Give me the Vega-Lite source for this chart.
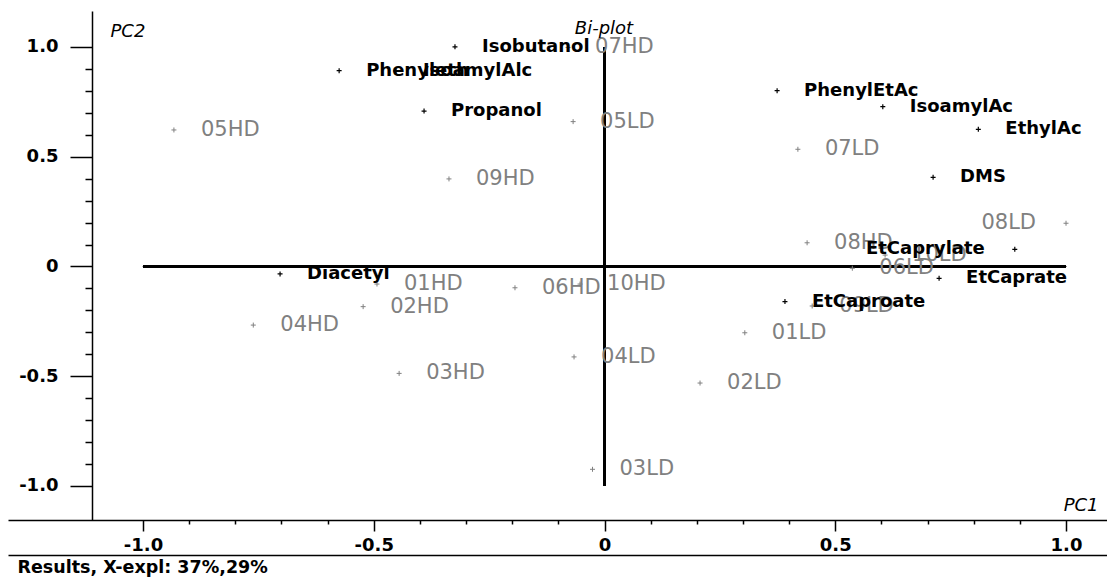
{
  "$schema": "https://vega.github.io/schema/vega-lite/v6.json",
  "width": 1099,
  "height": 509,
  "autosize": {"type": "none"},
  "padding": {"left": 8, "top": 11, "right": 0, "bottom": 60},
  "background": "white",
  "title": {"text": "Bi-plot", "anchor": "middle", "frame": "group", "orient": "top", "offset": -41, "baseline": "alphabetic", "dx": 46.5, "font": "DejaVu Sans", "fontStyle": "italic", "fontWeight": "normal", "fontSize": 18, "color": "black"},
  "config": {"view": {"stroke": null}, "axis": {"grid": false}},
  "datasets": {
    "points": [
      {"label": "Isobutanol", "type": "variable", "x": -0.324, "y": 1.001},
      {"label": "Phenyleth", "type": "variable", "x": -0.575, "y": 0.892},
      {"label": "IsoamylAlc", "type": "variable", "x": -0.452, "y": 0.891},
      {"label": "Propanol", "type": "variable", "x": -0.391, "y": 0.708},
      {"label": "PhenylEtAc", "type": "variable", "x": 0.374, "y": 0.801},
      {"label": "IsoamylAc", "type": "variable", "x": 0.603, "y": 0.728},
      {"label": "EthylAc", "type": "variable", "x": 0.81, "y": 0.625},
      {"label": "DMS", "type": "variable", "x": 0.712, "y": 0.406},
      {"label": "EtCaprylate", "type": "variable", "x": 0.889, "y": 0.078},
      {"label": "EtCaprate", "type": "variable", "x": 0.725, "y": -0.054},
      {"label": "EtCaproate", "type": "variable", "x": 0.391, "y": -0.16},
      {"label": "Diacetyl", "type": "variable", "x": -0.703, "y": -0.034},
      {"label": "05HD", "type": "sample", "x": -0.933, "y": 0.622},
      {"label": "07HD", "type": "sample", "x": -0.079, "y": 0.998},
      {"label": "05LD", "type": "sample", "x": -0.068, "y": 0.66},
      {"label": "09HD", "type": "sample", "x": -0.337, "y": 0.399},
      {"label": "07LD", "type": "sample", "x": 0.419, "y": 0.534},
      {"label": "08LD", "type": "sample", "x": 1.0, "y": 0.197},
      {"label": "08HD", "type": "sample", "x": 0.439, "y": 0.108},
      {"label": "06LD", "type": "sample", "x": 0.537, "y": -0.008},
      {"label": "10LD", "type": "sample", "x": 0.608, "y": 0.052},
      {"label": "09LD", "type": "sample", "x": 0.45, "y": -0.18},
      {"label": "01HD", "type": "sample", "x": -0.493, "y": -0.08},
      {"label": "02HD", "type": "sample", "x": -0.523, "y": -0.183},
      {"label": "04HD", "type": "sample", "x": -0.761, "y": -0.267},
      {"label": "06HD", "type": "sample", "x": -0.194, "y": -0.097},
      {"label": "10HD", "type": "sample", "x": -0.053, "y": -0.08},
      {"label": "03HD", "type": "sample", "x": -0.445, "y": -0.487},
      {"label": "04LD", "type": "sample", "x": -0.066, "y": -0.412},
      {"label": "01LD", "type": "sample", "x": 0.304, "y": -0.302},
      {"label": "02LD", "type": "sample", "x": 0.207, "y": -0.531},
      {"label": "03LD", "type": "sample", "x": -0.026, "y": -0.924}
    ]
  },
  "data": {"name": "points"},
  "layer": [
    {
      "mark": {"type": "rule", "color": "black", "strokeWidth": 1.5},
      "encoding": {
        "x": {"datum": -1, "type": "quantitative", "scale": {"domain": [-1.2925, 1.0888], "nice": false, "zero": false}, "axis": null},
        "x2": {"datum": 1},
        "y": {"datum": 0, "type": "quantitative", "scale": {"domain": [-1.155, 1.164], "nice": false, "zero": false}, "axis": null}
      }
    },
    {
      "mark": {"type": "rule", "color": "black", "strokeWidth": 1.5},
      "encoding": {
        "x": {"datum": 0, "type": "quantitative", "scale": {"domain": [-1.2925, 1.0888], "nice": false, "zero": false}, "axis": null},
        "y": {"datum": -1, "type": "quantitative", "scale": {"domain": [-1.155, 1.164], "nice": false, "zero": false}, "axis": null},
        "y2": {"datum": 1}
      }
    },
    {
      "transform": [{"filter": "datum.type == 'sample'"}],
      "mark": {"type": "point", "shape": "M-1,0H1M0,-1V1", "filled": false, "stroke": "#808080", "strokeWidth": 1, "size": 25, "opacity": 1},
      "encoding": {
        "x": {"field": "x", "type": "quantitative", "scale": {"domain": [-1.2925, 1.0888], "nice": false, "zero": false},
          "axis": {
            "orient": "bottom",
            "values": [-1, -0.9, -0.8, -0.7, -0.6, -0.5, -0.4, -0.3, -0.2, -0.1, 0, 0.1, 0.2, 0.3, 0.4, 0.5, 0.6, 0.7, 0.8, 0.9, 1],
            "domainColor": "black", "domainWidth": 1.5,
            "tickColor": "black", "tickWidth": 1.5,
            "tickSize": {"condition": {"test": "abs(datum.value*2 - round(datum.value*2)) < 0.01", "value": 11}, "value": 4},
            "labelExpr": "abs(datum.value*2 - round(datum.value*2)) < 0.01 ? (datum.value == 0 ? '0' : (datum.value < 0 ? '-' : '') + format(abs(datum.value), '.1f')) : ''",
            "labelFont": "DejaVu Sans", "labelFontWeight": "bold", "labelFontSize": 18, "labelColor": "black",
            "labelPadding": 5, "labelOverlap": false, "labelFlush": false,
            "title": "PC1", "titleFont": "DejaVu Sans", "titleFontStyle": "italic", "titleFontWeight": "normal", "titleFontSize": 18, "titleColor": "black",
            "titleX": 1090, "titleY": -10, "titleAlign": "right", "titleBaseline": "alphabetic", "titleAngle": 0
          }
        },
        "y": {"field": "y", "type": "quantitative", "scale": {"domain": [-1.155, 1.164], "nice": false, "zero": false},
          "axis": {
            "orient": "left", "offset": -84,
            "values": [-1, -0.9, -0.8, -0.7, -0.6, -0.5, -0.4, -0.3, -0.2, -0.1, 0, 0.1, 0.2, 0.3, 0.4, 0.5, 0.6, 0.7, 0.8, 0.9, 1],
            "domainColor": "black", "domainWidth": 1.5,
            "tickColor": "black", "tickWidth": 1.5,
            "tickSize": {"condition": {"test": "abs(datum.value*2 - round(datum.value*2)) < 0.01", "value": 22}, "value": 7},
            "labelExpr": "abs(datum.value*2 - round(datum.value*2)) < 0.01 ? (datum.value == 0 ? '0' : (datum.value < 0 ? '-' : '') + format(abs(datum.value), '.1f')) : ''",
            "labelFont": "DejaVu Sans", "labelFontWeight": "bold", "labelFontSize": 18, "labelColor": "black",
            "labelPadding": 12, "labelOverlap": false, "labelFlush": false,
            "title": "PC2", "titleFont": "DejaVu Sans", "titleFontStyle": "italic", "titleFontWeight": "normal", "titleFontSize": 18, "titleColor": "black",
            "titleX": 18, "titleY": 25, "titleAlign": "left", "titleBaseline": "alphabetic", "titleAngle": 0
          }
        }
      }
    },
    {
      "transform": [{"filter": "datum.type == 'sample'"}],
      "mark": {"type": "text", "font": "DejaVu Sans", "fontSize": 21, "color": "#808080", "baseline": "middle",
        "align": {"expr": "datum.label == '08LD' ? 'right' : 'left'"},
        "dx": {"expr": "datum.label == '08LD' ? -30 : 27"}},
      "encoding": {
        "x": {"field": "x", "type": "quantitative", "scale": {"domain": [-1.2925, 1.0888], "nice": false, "zero": false}, "axis": null},
        "y": {"field": "y", "type": "quantitative", "scale": {"domain": [-1.155, 1.164], "nice": false, "zero": false}, "axis": null},
        "text": {"field": "label"}
      }
    },
    {
      "transform": [{"filter": "datum.type == 'variable'"}],
      "mark": {"type": "point", "shape": "M-1,0H1M0,-1V1", "filled": false, "stroke": "black", "strokeWidth": 1.2, "size": 25, "opacity": 1},
      "encoding": {
        "x": {"field": "x", "type": "quantitative", "scale": {"domain": [-1.2925, 1.0888], "nice": false, "zero": false},
          "axis": {
            "orient": "bottom", "offset": 35,
            "domainColor": "black", "domainWidth": 1.5,
            "ticks": false, "labels": false,
            "title": "Results, X-expl: 37%,29%", "titleFont": "DejaVu Sans", "titleFontWeight": "bold", "titleFontSize": 17.5, "titleColor": "black",
            "titleX": 9, "titleY": 17, "titleAlign": "left", "titleBaseline": "alphabetic", "titleAngle": 0
          }
        },
        "y": {"field": "y", "type": "quantitative", "scale": {"domain": [-1.155, 1.164], "nice": false, "zero": false}, "axis": null}
      }
    },
    {
      "transform": [{"filter": "datum.type == 'variable'"}],
      "mark": {"type": "text", "font": "DejaVu Sans", "fontWeight": "bold", "fontSize": 18, "color": "black", "baseline": "middle",
        "align": {"expr": "datum.label == 'EtCaprylate' ? 'right' : 'left'"},
        "dx": {"expr": "datum.label == 'EtCaprylate' ? -30 : 27"}},
      "encoding": {
        "x": {"field": "x", "type": "quantitative", "scale": {"domain": [-1.2925, 1.0888], "nice": false, "zero": false}, "axis": null},
        "y": {"field": "y", "type": "quantitative", "scale": {"domain": [-1.155, 1.164], "nice": false, "zero": false}, "axis": null},
        "text": {"field": "label"}
      }
    }
  ],
  "resolve": {"axis": {"x": "independent", "y": "independent"}}
}
